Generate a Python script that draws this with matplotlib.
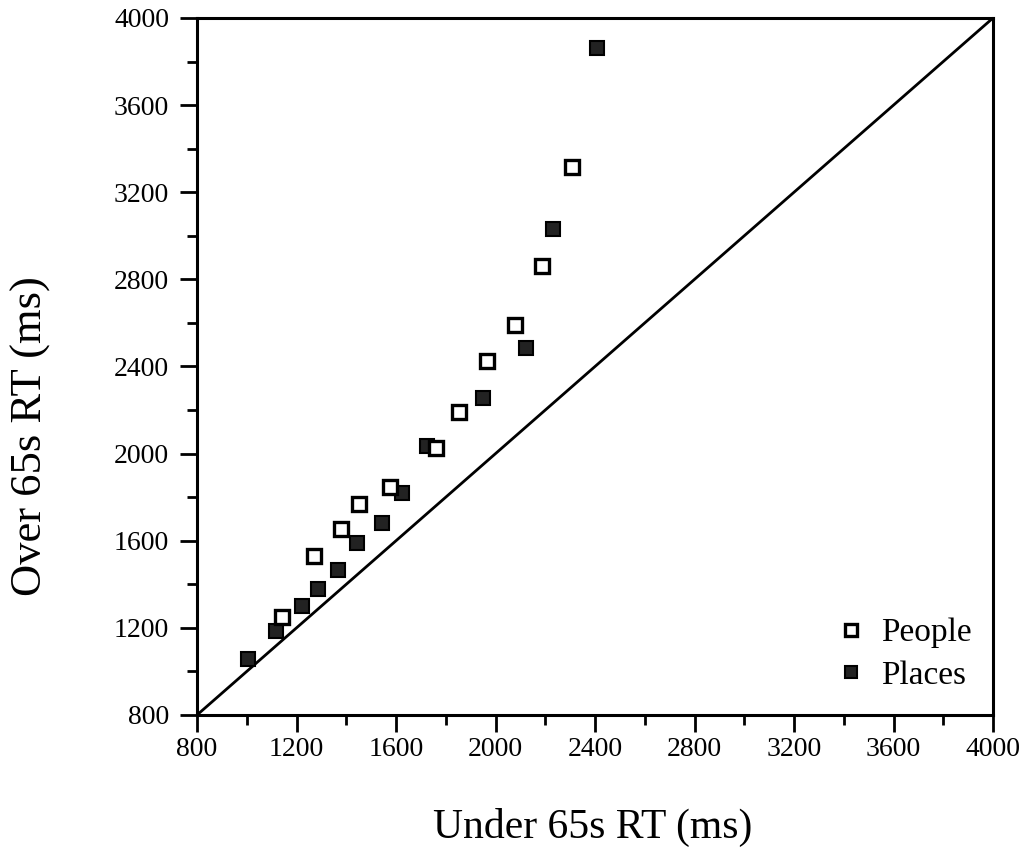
import numpy as np
from matplotlib import pyplot as plt
from matplotlib.ticker import MultipleLocator

# data (ms)
people_x = [1140, 1272, 1377, 1452, 1576, 1761, 1853, 1967, 2078, 2188, 2306]
people_y = [1251, 1530, 1654, 1769, 1845, 2025, 2192, 2425, 2591, 2863, 3314]
places_x = [1006, 1118, 1221, 1285, 1368, 1442, 1545, 1623, 1723, 1948, 2123, 2232, 2409]
places_y = [1056, 1187, 1300, 1377, 1466, 1588, 1680, 1818, 2035, 2257, 2487, 3031, 3860]
ticks = [800, 1200, 1600, 2000, 2400, 2800, 3200, 3600, 4000]

def main():
    plt.rcParams['font.family'] = ['Liberation Serif', 'DejaVu Serif']
    fig = plt.figure(figsize=(10.3, 8.66), dpi=100)
    ax = fig.add_axes([197/1030, 1-715/866, (993-197)/1030, (715-18)/866])

    # equality line
    ax.plot([800, 4000], [800, 4000], color='black', lw=2, zorder=1)

    ax.plot(people_x, people_y, ls='none', marker='s', ms=10, mfc='white',
            mec='black', mew=2.4, label='People', zorder=3)
    ax.plot(places_x, places_y, ls='none', marker='s', ms=10, mfc='#222222',
            mec='black', mew=1.5, label='Places', zorder=2)

    ax.set_xlim(800, 4000)
    ax.set_ylim(800, 4000)
    ax.set_xticks(ticks)
    ax.set_yticks(ticks)
    ax.xaxis.set_minor_locator(MultipleLocator(200))
    ax.yaxis.set_minor_locator(MultipleLocator(200))
    ax.tick_params(which='major', direction='out', length=12, width=2, labelsize=20)
    ax.tick_params(axis='x', which='major', pad=4)
    ax.tick_params(axis='y', which='major', pad=8)
    ax.tick_params(which='minor', direction='out', length=7, width=2)
    for s in ax.spines.values():
        s.set_linewidth(2.2)

    ax.set_xlabel('Under 65s RT (ms)', fontsize=30)
    ax.set_ylabel('Over 65s RT (ms)', fontsize=32)
    ax.xaxis.set_label_coords(0.497, -0.134)
    ax.yaxis.set_label_coords(-0.183, 0.40)

    ax.legend(loc='lower right', frameon=False, fontsize=24, handletextpad=0.3,
              handlelength=1.2, labelspacing=0.35, borderpad=0,
              bbox_to_anchor=(0.994, 0.011), markerscale=0.8)

    fig.savefig('out.png', dpi=100)

if __name__ == '__main__':
    main()
